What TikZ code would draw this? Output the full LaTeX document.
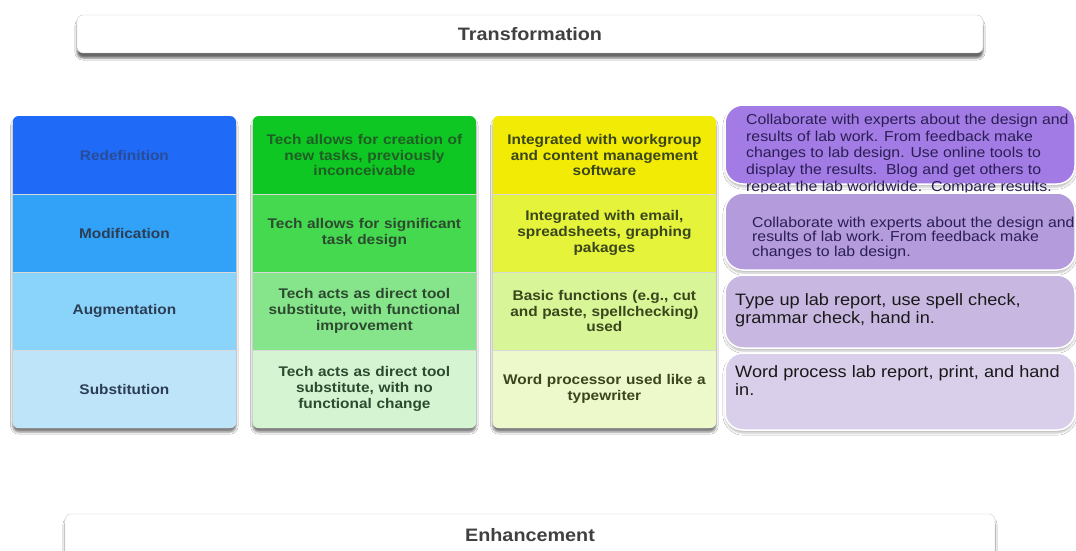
\documentclass[tikz,border=0pt]{standalone}
\usepackage{fontspec}
\setmainfont{Liberation Sans}[FakeStretch=1.1]
\usepackage{tikz}
\usetikzlibrary{shadows.blur}
\definecolor{blueA}{HTML}{1F6BF7}
\definecolor{blueB}{HTML}{31A2F7}
\definecolor{blueC}{HTML}{8AD4FB}
\definecolor{blueD}{HTML}{BEE4FA}
\definecolor{greenA}{HTML}{0FC723}
\definecolor{greenB}{HTML}{45D94F}
\definecolor{greenC}{HTML}{86E48B}
\definecolor{greenD}{HTML}{D5F5D2}
\definecolor{yellowA}{HTML}{F2EB05}
\definecolor{yellowB}{HTML}{E5F33A}
\definecolor{yellowC}{HTML}{D8F597}
\definecolor{yellowD}{HTML}{EDF8CB}
\definecolor{purpleA}{HTML}{A27BE4}
\definecolor{purpleB}{HTML}{B49BDB}
\definecolor{purpleC}{HTML}{C8B8E1}
\definecolor{purpleD}{HTML}{D9CFEA}
\definecolor{inkblue}{HTML}{2A4C98}
\definecolor{inknavy}{HTML}{2B3E55}
\definecolor{inkgreen}{HTML}{1F5E25}
\definecolor{inkleaf}{HTML}{2D4A30}
\definecolor{inkolive}{HTML}{3A461C}
\definecolor{inkviolet}{HTML}{2A1E55}
\tikzset{
    bar/.style={draw=black!20, fill=white, rounded corners=6pt,
        blur shadow={shadow xshift=0pt, shadow yshift=-5pt, shadow opacity=60}},
    bartext/.style={font=\fontsize{18}{20}\selectfont\bfseries, text=black!75},
    column/.style={fill=white, rounded corners=6pt,
        blur shadow={shadow xshift=0pt, shadow yshift=-4pt, shadow opacity=50}},
    cell/.style={rectangle, minimum width=223.3pt, minimum height=78pt, inner sep=0pt,
        text width=215pt, align=center, font=\fontsize{14}{15.7}\selectfont\bfseries},
    sep/.style={draw=black!15, line width=0.6pt},
    note/.style={rounded corners=18pt, draw=white, line width=1.5pt,
        blur shadow={shadow xshift=0pt, shadow yshift=-3pt, shadow opacity=25}},
    notetext/.style={anchor=north west, inner sep=0pt, align=left}
}
\begin{document}
\begin{tikzpicture}[x=1pt, y=-1pt]
\useasboundingbox[fill=white] (0,0) rectangle (1076,551);

\path[bar] (77,15) rectangle (983,53);
\node[bartext] (transformation) at (530,34) {Transformation};
\path[bar] (65,514) rectangle (995,580);
\node[bartext] (enhancement) at (530,535) {Enhancement};

\path[column] (12.7,116) rectangle (236,428);
\path[column] (252.7,116) rectangle (476,428);
\path[column] (492.7,116) rectangle (716,428);

\begin{scope}
  \clip[rounded corners=6pt] (12.7,116) rectangle (236,428);
  \node[cell, fill=blueA, text=inkblue] (redef) at (124.4,155) {Redefinition};
  \node[cell, fill=blueB, text=inknavy] (modif) at (124.4,233) {Modification};
  \node[cell, fill=blueC, text=inknavy] (augm) at (124.4,311) {Augmentation};
  \node[cell, fill=blueD, text=inknavy] (subst) at (124.4,389) {Substitution};
\end{scope}
\draw[sep] (redef.south west) -- (redef.south east);
\draw[sep] (modif.south west) -- (modif.south east);
\draw[sep] (augm.south west) -- (augm.south east);

\begin{scope}
  \clip[rounded corners=6pt] (252.7,116) rectangle (476,428);
  \node[cell, fill=greenA, text=inkgreen] (redeftech) at (364.4,155)
    {Tech allows for creation of\\ new tasks, previously\\ inconceivable};
  \node[cell, fill=greenB, text=inkleaf] (modiftech) at (364.4,233)
    {Tech allows for significant\\ task design};
  \node[cell, fill=greenC, text=inkleaf] (augmtech) at (364.4,311)
    {Tech acts as direct tool\\ substitute, with functional\\ improvement};
  \node[cell, fill=greenD, text=inkleaf] (substtech) at (364.4,389)
    {Tech acts as direct tool\\ substitute, with no\\ functional change};
\end{scope}
\draw[sep] (redeftech.south west) -- (redeftech.south east);
\draw[sep] (modiftech.south west) -- (modiftech.south east);
\draw[sep] (augmtech.south west) -- (augmtech.south east);

\begin{scope}
  \clip[rounded corners=6pt] (492.7,116) rectangle (716,428);
  \node[cell, fill=yellowA, text=inkolive] (redefuse) at (604.4,155)
    {Integrated with workgroup\\ and content management\\ software};
  \node[cell, fill=yellowB, text=inkolive] (modifuse) at (604.4,233)
    {Integrated with email,\\ spreadsheets, graphing\\ pakages};
  \node[cell, fill=yellowC, text=inkolive] (augmuse) at (604.4,311)
    {Basic functions (e.g., cut\\ and paste, spellchecking)\\ used};
  \node[cell, fill=yellowD, text=inkolive] (substuse) at (604.4,389)
    {Word processor used like a\\ typewriter};
\end{scope}
\draw[sep] (redefuse.south west) -- (redefuse.south east);
\draw[sep] (modifuse.south west) -- (modifuse.south east);
\draw[sep] (augmuse.south west) -- (augmuse.south east);

\path[note, fill=purpleA] (725,105) rectangle (1075,184);
\node[notetext, text=inkviolet, font=\fontsize{14.4}{16.7}\selectfont] (redeflab) at (746,113.8)
  {Collaborate with experts about the design and\\ results of lab work. From feedback make\\
   changes to lab design. Use online tools to\\ display the results.\ \ Blog and get others to\\
   repeat the lab worldwide.\ \ Compare results.};
\path[note, fill=purpleB] (725,193) rectangle (1075,270);
\node[notetext, text=inkviolet, font=\fontsize{14.4}{14.7}\selectfont] (modiflab) at (752,216.4)
  {Collaborate with experts about the design and\\ results of lab work. From feedback make\\
   changes to lab design.};
\path[note, fill=purpleC] (725,275) rectangle (1075,348);
\node[notetext, text=black!90, font=\fontsize{16.5}{18}\selectfont] (augmlab) at (735,293.8)
  {Type up lab report, use spell check,\\ grammar check, hand in.};
\path[note, fill=purpleD] (725,353) rectangle (1075,430);
\node[notetext, text=black!90, font=\fontsize{16.5}{18}\selectfont] (substlab) at (735,365.4)
  {Word process lab report, print, and hand\\ in.};
\end{tikzpicture}
\end{document}
